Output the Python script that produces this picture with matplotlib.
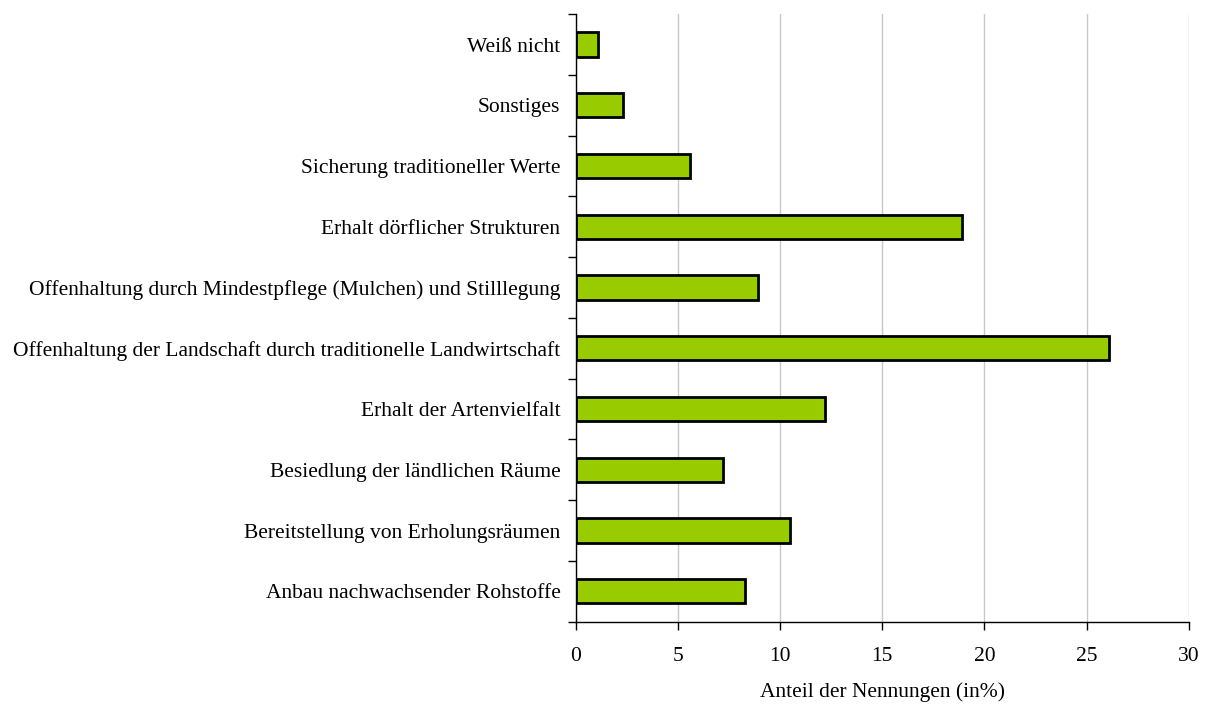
import matplotlib.pyplot as plt
import numpy as np

# Kategorien (von unten nach oben) und Anteile in %
categories = [
    'Anbau nachwachsender Rohstoffe',
    'Bereitstellung von Erholungsräumen',
    'Besiedlung der ländlichen Räume',
    'Erhalt der Artenvielfalt',
    'Offenhaltung der Landschaft durch traditionelle Landwirtschaft',
    'Offenhaltung durch Mindestpflege (Mulchen) und Stilllegung',
    'Erhalt dörflicher Strukturen',
    'Sicherung traditioneller Werte',
    'Sonstiges',
    'Weiß nicht',
]
values = [8.3, 10.5, 7.2, 12.2, 26.1, 8.9, 18.9, 5.6, 2.3, 1.1]
x_ticks = [0, 5, 10, 15, 20, 25, 30]

plt.rcParams['font.family'] = ['Liberation Serif', 'DejaVu Serif']
plt.rcParams['font.size'] = 15.5

fig = plt.figure(figsize=(12.08, 7.08), dpi=100)
ax = fig.add_axes([0.4766, 0.1219, 0.984 - 0.4766, 0.980 - 0.1219])

y = np.arange(len(categories))
ax.barh(y, values, height=0.4, color='#99CC00', edgecolor='black', linewidth=2, zorder=3)

ax.set_xlim(0, 30)
ax.set_ylim(-0.5, len(categories) - 0.5)
ax.set_xticks(x_ticks)
ax.xaxis.grid(True, color='#c8c8c8', linewidth=1, zorder=0)

# Kategoriebeschriftungen mittig, Striche an den Grenzen
ax.set_yticks(y)
ax.set_yticklabels(categories)
ax.tick_params(axis='y', length=0, pad=11)
ax.set_yticks(np.arange(-0.5, len(categories)), minor=True)
ax.tick_params(axis='y', which='minor', length=6, width=1, direction='out')
ax.tick_params(axis='x', length=6, width=1, direction='out', pad=12)

for s in ['top', 'right']:
    ax.spines[s].set_visible(False)
ax.spines['left'].set_linewidth(1)
ax.spines['bottom'].set_linewidth(1)

ax.set_xlabel('Anteil der Nennungen (in%)', labelpad=12)

fig.savefig('out.png', dpi=100)
